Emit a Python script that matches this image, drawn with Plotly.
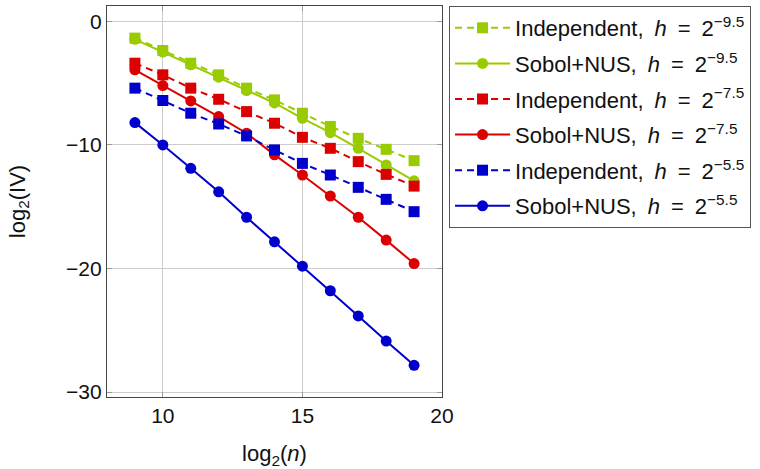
import plotly.graph_objects as go

log2_n = [9, 10, 11, 12, 13, 14, 15, 16, 17, 18, 19]

ind_h95 = [-1.35, -2.35, -3.38, -4.32, -5.40, -6.35, -7.43, -8.50, -9.46, -10.35, -11.27]
sob_h95 = [-1.45, -2.48, -3.51, -4.51, -5.60, -6.60, -7.84, -9.00, -10.27, -11.62, -12.90]
ind_h75 = [-3.38, -4.32, -5.40, -6.30, -7.30, -8.24, -9.38, -10.27, -11.35, -12.38, -13.33]
sob_h75 = [-3.92, -5.19, -6.43, -7.70, -9.05, -10.80, -12.43, -14.13, -15.85, -17.70, -19.60]
ind_h55 = [-5.40, -6.40, -7.43, -8.30, -9.27, -10.40, -11.49, -12.43, -13.43, -14.40, -15.40]
sob_h55 = [-8.19, -10.00, -11.89, -13.79, -15.85, -17.84, -19.81, -21.80, -23.84, -25.87, -27.84]

x_ticks = [10, 15, 20]
y_ticks = [0, -10, -20, -30]
y_tick_labels = ["0", "\u221210", "\u221220", "\u221230"]

GREEN = "#99CC00"
RED = "#DD0000"
BLUE = "#0000CC"

SP = "\u2002"
series = [
    (f"Independent,{SP}<i>h</i>{SP}={SP}2<sup>\u22129.5</sup>", ind_h95, GREEN, True),
    (f"Sobol+NUS,{SP}<i>h</i>{SP}={SP}2<sup>\u22129.5</sup>", sob_h95, GREEN, False),
    (f"Independent,{SP}<i>h</i>{SP}={SP}2<sup>\u22127.5</sup>", ind_h75, RED, True),
    (f"Sobol+NUS,{SP}<i>h</i>{SP}={SP}2<sup>\u22127.5</sup>", sob_h75, RED, False),
    (f"Independent,{SP}<i>h</i>{SP}={SP}2<sup>\u22125.5</sup>", ind_h55, BLUE, True),
    (f"Sobol+NUS,{SP}<i>h</i>{SP}={SP}2<sup>\u22125.5</sup>", sob_h55, BLUE, False),
]

fig = go.Figure()
for i, (name, ys, color, dashed) in enumerate(series):
    fig.add_trace(go.Scatter(
        x=log2_n, y=ys, name=name, mode="lines+markers",
        legendgroup=f"g{i}",
        line=dict(color=color, width=2, dash="7px,5px" if dashed else "solid"),
        marker=dict(color=color, size=11,
                    symbol="square" if dashed else "circle",
                    line=dict(width=0)),
    ))

FONT = "Liberation Sans"
fig.update_layout(
    width=760, height=469,
    margin=dict(l=107, r=318, t=6, b=72, autoexpand=False),
    paper_bgcolor="white", plot_bgcolor="white",
    font=dict(family=FONT, size=21, color="#111111"),
    showlegend=True,
    legend=dict(
        x=1.021, y=1.0, xanchor="left", yanchor="top",
        bordercolor="#555555", borderwidth=1, bgcolor="white",
        font=dict(family=FONT, size=22, color="#111111"),
        itemwidth=55, tracegroupgap=4,
    ),
    xaxis=dict(
        range=[8, 20], tickvals=x_ticks, ticktext=[str(v) for v in x_ticks],
        showgrid=True, gridcolor="#CCCCCC", gridwidth=1,
        zeroline=False, showline=True, linecolor="#444444", linewidth=1.2,
        mirror="ticks", ticks="inside", ticklen=5, tickcolor="#999999",
        title=dict(text="log<sub>2</sub>(<i>n</i>)", standoff=22,
                   font=dict(family=FONT, size=22)),
        automargin=False,
    ),
    yaxis=dict(
        range=[-30.4, 1.25], tickvals=y_ticks, ticktext=y_tick_labels,
        showgrid=True, gridcolor="#CCCCCC", gridwidth=1,
        zeroline=False, showline=True, linecolor="#444444", linewidth=1.2,
        mirror="ticks", ticks="inside", ticklen=5, tickcolor="#999999",
        title=dict(text="log<sub>2</sub>(IV)", standoff=34,
                   font=dict(family=FONT, size=22)),
        automargin=False,
    ),
)

fig.write_html("out.html", config={"displayModeBar": False},
               post_script="document.body.style.margin='0';")
